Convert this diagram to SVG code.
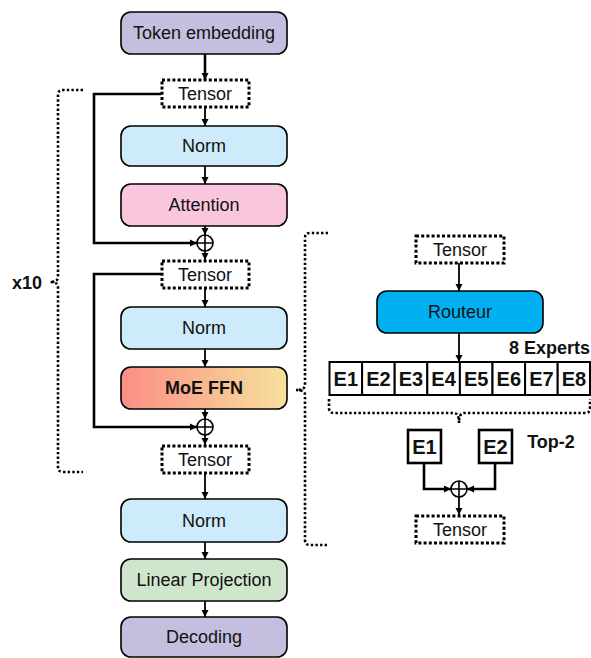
<svg xmlns="http://www.w3.org/2000/svg" width="591" height="658" viewBox="0 0 591 658">
<style>
.box{stroke:#000;stroke-width:1.6}
.t{font-family:"Liberation Sans",Arial,sans-serif;font-size:18px;fill:#111;text-anchor:middle}
.b{font-weight:bold}
.dash{fill:#fff;stroke:#000;stroke-width:3;stroke-dasharray:3 2.2}
.brace{fill:none;stroke:#000;stroke-width:2.6;stroke-dasharray:2.4 2.2}
.ln{fill:none;stroke:#000;stroke-width:1.8}
.skip{fill:none;stroke:#000;stroke-width:2.6}
.cell{fill:#fff;stroke:#000;stroke-width:2}
</style>
<defs>
<marker id="ah" markerUnits="userSpaceOnUse" markerWidth="8" markerHeight="8" refX="7" refY="4" orient="auto">
<path d="M0,0.5 L7,4 L0,7.5 z" fill="#000"/>
</marker>
<linearGradient id="moe" x1="0" y1="0" x2="1" y2="0">
<stop offset="0" stop-color="#fb8e84"/>
<stop offset="1" stop-color="#f7e19c"/>
</linearGradient>
</defs>

<g id="connectors">
<line class="ln" x1="205" y1="54" x2="205" y2="80" marker-end="url(#ah)" style="stroke-width:2.6"/>
<line class="ln" x1="205" y1="108" x2="205" y2="126" marker-end="url(#ah)"/>
<line class="ln" x1="205" y1="166" x2="205" y2="184" marker-end="url(#ah)"/>
<line class="ln" x1="205" y1="226" x2="205" y2="235" marker-end="url(#ah)"/>
<line class="ln" x1="205" y1="251" x2="205" y2="260" marker-end="url(#ah)"/>
<line class="ln" x1="205" y1="289" x2="205" y2="307" marker-end="url(#ah)"/>
<line class="ln" x1="205" y1="349" x2="205" y2="367" marker-end="url(#ah)"/>
<line class="ln" x1="205" y1="409" x2="205" y2="419" marker-end="url(#ah)"/>
<line class="ln" x1="205" y1="435" x2="205" y2="445" marker-end="url(#ah)"/>
<line class="ln" x1="205" y1="474" x2="205" y2="499" marker-end="url(#ah)"/>
<line class="ln" x1="205" y1="542" x2="205" y2="559" marker-end="url(#ah)"/>
<line class="ln" x1="205" y1="601" x2="205" y2="617" marker-end="url(#ah)"/>
<path class="skip" d="M161,94 H94 V243 H197" marker-end="url(#ah)"/>
<path class="skip" d="M161,274 H94 V427 H197" marker-end="url(#ah)"/>
<line class="ln" x1="459" y1="263" x2="459" y2="291" marker-end="url(#ah)"/>
<line class="ln" x1="459" y1="333" x2="459" y2="362" marker-end="url(#ah)"/>
<path class="skip" d="M424,463 V489 H451" marker-end="url(#ah)"/>
<path class="skip" d="M495,463 V489 H467" marker-end="url(#ah)"/>
<line class="ln" x1="459" y1="497" x2="459" y2="515" marker-end="url(#ah)"/>
</g>

<g id="brace-x10">
<path class="brace" d="M83,90 H63 Q58,90 58,95 V277 Q58,282 50,282 Q58,282 58,287 V467 Q58,472 63,472 H83"/>
<text class="t b" x="27" y="289">x10</text>
</g>
<g id="brace-moe">
<path class="brace" d="M328,233 H310 Q305,233 305,238 V385 Q305,390 296,390 Q305,390 305,395 V540 Q305,545 310,545 H328"/>
</g>
<g id="brace-experts">
<path class="brace" d="M329,399 V408 Q329,413 334,413 H454 Q459,413 459,423 Q459,413 464,413 H585 Q590,413 590,408 V399"/>
</g>

<g id="token-embedding">
<rect class="box" x="121" y="12" width="166" height="42" rx="10" fill="#c5bfdf"/>
<text class="t" x="204" y="39">Token embedding</text>
</g>
<g id="tensor1">
<rect class="dash" x="162" y="80" width="87" height="27"/>
<text class="t" x="205" y="100">Tensor</text>
</g>
<g id="norm1">
<rect class="box" x="121" y="126" width="166" height="40" rx="10" fill="#cdebfa"/>
<text class="t" x="204" y="152">Norm</text>
</g>
<g id="attention">
<rect class="box" x="121" y="184" width="166" height="42" rx="10" fill="#f9c6dd"/>
<text class="t" x="204" y="211">Attention</text>
</g>
<g id="add1">
<circle cx="205" cy="243" r="8" fill="#fff" stroke="#000" stroke-width="1.6"/>
<path d="M197,243 H213 M205,235 V251" stroke="#000" stroke-width="1.6"/>
</g>
<g id="tensor2">
<rect class="dash" x="162" y="261" width="87" height="27"/>
<text class="t" x="205" y="281">Tensor</text>
</g>
<g id="norm2">
<rect class="box" x="121" y="307" width="166" height="42" rx="10" fill="#cdebfa"/>
<text class="t" x="204" y="334">Norm</text>
</g>
<g id="moe-ffn">
<rect class="box" x="121" y="367" width="166" height="42" rx="10" fill="url(#moe)"/>
<text class="t b" x="204" y="394">MoE FFN</text>
</g>
<g id="add2">
<circle cx="205" cy="427" r="8" fill="#fff" stroke="#000" stroke-width="1.6"/>
<path d="M197,427 H213 M205,419 V435" stroke="#000" stroke-width="1.6"/>
</g>
<g id="tensor3">
<rect class="dash" x="162" y="446" width="87" height="27"/>
<text class="t" x="205" y="466">Tensor</text>
</g>
<g id="norm3">
<rect class="box" x="121" y="499" width="166" height="43" rx="10" fill="#cdebfa"/>
<text class="t" x="204" y="527">Norm</text>
</g>
<g id="linear-projection">
<rect class="box" x="121" y="559" width="166" height="42" rx="10" fill="#cfe6cd"/>
<text class="t" x="204" y="586">Linear Projection</text>
</g>
<g id="decoding">
<rect class="box" x="121" y="617" width="166" height="40" rx="10" fill="#c5bfdf"/>
<text class="t" x="204" y="643">Decoding</text>
</g>

<g id="tensor-in">
<rect class="dash" x="416" y="236" width="88" height="27"/>
<text class="t" x="460" y="256">Tensor</text>
</g>
<g id="routeur">
<rect class="box" x="377" y="291" width="166" height="42" rx="10" fill="#00b0f0"/>
<text class="t" x="460" y="318">Routeur</text>
</g>
<g id="experts">
<text class="t b" x="590" y="354" style="text-anchor:end">8 Experts</text>
<rect class="cell" x="329.5" y="362" width="32.6" height="33"/>
<rect class="cell" x="362.1" y="362" width="32.6" height="33"/>
<rect class="cell" x="394.7" y="362" width="32.6" height="33"/>
<rect class="cell" x="427.3" y="362" width="32.6" height="33"/>
<rect class="cell" x="459.9" y="362" width="32.6" height="33"/>
<rect class="cell" x="492.5" y="362" width="32.6" height="33"/>
<rect class="cell" x="525.1" y="362" width="32.6" height="33"/>
<rect class="cell" x="557.7" y="362" width="32.3" height="33"/>
<g class="t b" style="font-size:20px">
<text x="345.8" y="386">E1</text>
<text x="378.4" y="386">E2</text>
<text x="411" y="386">E3</text>
<text x="443.6" y="386">E4</text>
<text x="476.2" y="386">E5</text>
<text x="508.8" y="386">E6</text>
<text x="541.4" y="386">E7</text>
<text x="573.9" y="386">E8</text>
</g>
</g>
<g id="expert-e1">
<rect x="408" y="430" width="33" height="33" fill="#fff" stroke="#000" stroke-width="2.6"/>
<text class="t b" x="424.5" y="454" style="font-size:20px">E1</text>
</g>
<g id="expert-e2">
<rect x="479" y="430" width="33" height="33" fill="#fff" stroke="#000" stroke-width="2.6"/>
<text class="t b" x="495.5" y="454" style="font-size:20px">E2</text>
</g>
<text class="t b" x="551" y="448">Top-2</text>
<g id="add3">
<circle cx="459" cy="489" r="8" fill="#fff" stroke="#000" stroke-width="1.6"/>
<path d="M451,489 H467 M459,481 V497" stroke="#000" stroke-width="1.6"/>
</g>
<g id="tensor-out">
<rect class="dash" x="416" y="516" width="88" height="27"/>
<text class="t" x="460" y="536">Tensor</text>
</g>
</svg>
